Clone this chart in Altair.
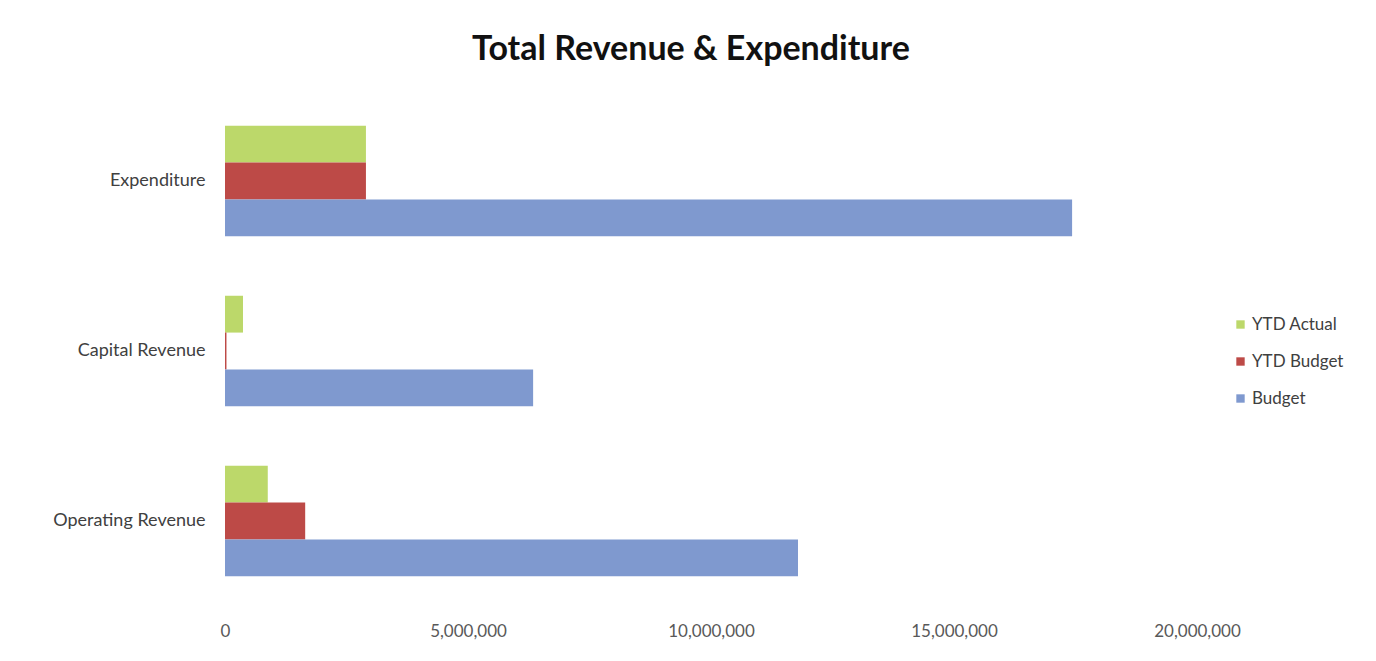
import altair as alt
import pandas as pd

categories = ["Expenditure", "Capital Revenue", "Operating Revenue"]
series = ["YTD Actual", "YTD Budget", "Budget"]
ytd_actual = [2900000, 370000, 880000]
ytd_budget = [2900000, 30000, 1650000]
budget = [17430000, 6340000, 11790000]
colors = ["#bcd86a", "#bd4a47", "#7f99cf"]
x_ticks = [0, 5000000, 10000000, 15000000, 20000000]

rows = []
for i, c in enumerate(categories):
    for s, vals in zip(series, [ytd_actual, ytd_budget, budget]):
        rows.append({"Category": c, "Series": s, "Value": vals[i]})
df = pd.DataFrame(rows)

FONT = "Lato"

chart = alt.Chart(df).mark_bar().encode(
    y=alt.Y("Category:N", sort=categories, title=None,
            scale=alt.Scale(paddingInner=0.35, paddingOuter=0.175),
            axis=alt.Axis(domain=False, ticks=False, labelFontSize=18, labelColor="#404040",
                          labelFont=FONT, labelPadding=20, labelLimit=300)),
    yOffset=alt.YOffset("Series:N", sort=series, scale=alt.Scale(paddingInner=0, paddingOuter=0)),
    x=alt.X("Value:Q", title=None, scale=alt.Scale(domain=[0, 20000000], nice=False),
            axis=alt.Axis(values=x_ticks, format=",d", grid=False, domain=False, ticks=False,
                          labelFlush=False, labelBound=False,
                          labelFontSize=17, labelColor="#595959", labelFont=FONT, labelPadding=17)),
    color=alt.Color("Series:N", sort=series, scale=alt.Scale(domain=series, range=colors),
                    legend=alt.Legend(title=None, orient="none", legendX=1007, legendY=220,
                                      symbolType="square", symbolSize=70, symbolStrokeWidth=0,
                                      labelFontSize=17, labelColor="#404040", labelFont=FONT,
                                      rowPadding=19, labelOffset=3)),
).properties(
    width=972, height=510,
    title=alt.TitleParams("Total Revenue & Expenditure", fontSize=34, font=FONT, fontWeight="bold",
                          color="#111111", offset=29, dx=-20, anchor="middle"),
    autosize=alt.AutoSizeParams(type="none"),
    padding={"left": 217, "top": 88, "right": 150, "bottom": 45},
).configure_view(stroke=None)

chart.save("out.html", embed_options={"renderer": "svg", "actions": False})
